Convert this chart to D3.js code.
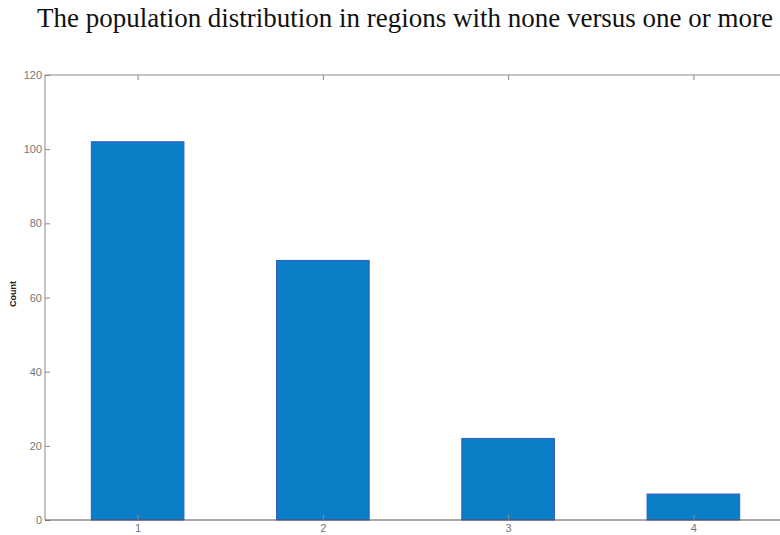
<!DOCTYPE html>
<html><head><meta charset="utf-8">
<script src="https://cdn.jsdelivr.net/npm/d3@7"></script>
<style>body{margin:0;background:#fff}svg{display:block}</style>
</head><body>
<svg id="c" width="780" height="535"></svg>
<script>
const categories = [1, 2, 3, 4];
const counts = [102, 70, 22, 7];
const yTicks = [0, 20, 40, 60, 80, 100, 120];
const titleText = "The population distribution in regions with none versus one or more";
const yLabel = "Count";

const svg = d3.select("#c");
const L = 45, R = 786, T = 75, B = 520;
const x = d3.scaleLinear().domain([0.5, 4.5]).range([L, R]);
const y = d3.scaleLinear().domain([0, 120]).range([B, T]);
const barW = x(1.5) - x(1);
const axisCol = "#8a8a8a";
const labCol = "#777";
const labFont = "Liberation Sans, Arial, sans-serif";

svg.append("text").attr("x", 37).attr("y", 27)
  .attr("font-family", "Liberation Serif, Times New Roman, serif")
  .attr("font-size", 27).attr("fill", "#111")
  .attr("textLength", 736).attr("lengthAdjust", "spacingAndGlyphs")
  .text(titleText);

// bars
svg.selectAll("rect.bar").data(categories).enter().append("rect")
  .attr("class", "bar")
  .attr("x", (d) => x(d) - barW / 2)
  .attr("y", (d, i) => y(counts[i]))
  .attr("width", barW)
  .attr("height", (d, i) => y(0) - y(counts[i]))
  .attr("fill", "#0a7fc7").attr("stroke", "#3a55c8").attr("stroke-width", 1);

// box lines
svg.append("line").attr("x1", L).attr("x2", R).attr("y1", T).attr("y2", T).attr("stroke", axisCol);
svg.append("line").attr("x1", L).attr("x2", L).attr("y1", T).attr("y2", B).attr("stroke", axisCol);
svg.append("line").attr("x1", R).attr("x2", R).attr("y1", T).attr("y2", B).attr("stroke", axisCol);

// left axis
const yAxis = d3.axisLeft(y).tickValues(yTicks).tickSizeInner(-5).tickSizeOuter(0).tickPadding(3);
const gy = svg.append("g").attr("transform", `translate(${L},0)`).call(yAxis);
gy.select(".domain").remove();
gy.selectAll("line").attr("stroke", axisCol);
gy.selectAll("text").attr("fill", labCol).attr("font-family", labFont).attr("font-size", 11);

// right axis ticks
const gr = svg.append("g").attr("transform", `translate(${R},0)`)
  .call(d3.axisRight(y).tickValues(yTicks).tickSizeInner(-5).tickSizeOuter(0).tickFormat(""));
gr.select(".domain").remove();
gr.selectAll("line").attr("stroke", "#c8c8c8");

// top axis ticks
const gt = svg.append("g").attr("transform", `translate(0,${T})`)
  .call(d3.axisTop(x).tickValues(categories).tickSizeInner(-5).tickSizeOuter(0).tickFormat(""));
gt.select(".domain").remove();
gt.selectAll("line").attr("stroke", axisCol);

// bottom axis
const gb = svg.append("g").attr("transform", `translate(0,${B})`)
  .call(d3.axisBottom(x).tickValues(categories).tickSizeInner(-5).tickSizeOuter(0).tickPadding(4).tickFormat(d3.format("d")));
gb.select(".domain").remove();
gb.selectAll("line").attr("stroke", axisCol);
gb.selectAll("text").attr("fill", labCol).attr("font-family", labFont).attr("font-size", 11);
svg.append("line").attr("x1", L).attr("x2", 780).attr("y1", B).attr("y2", B).attr("stroke", "#555").attr("stroke-width", 1.2);

// y label (partly clipped at left edge as in the reference)
svg.append("defs").append("clipPath").attr("id", "ylc")
  .append("rect").attr("x", 9).attr("y", 0).attr("width", 40).attr("height", 535);
svg.append("g").attr("clip-path", "url(#ylc)")
  .append("text")
  .attr("transform", `translate(16,294) rotate(-90)`)
  .attr("text-anchor", "middle").attr("font-family", labFont)
  .attr("font-size", 9).attr("font-weight", "bold").attr("fill", "#222").text(yLabel);
</script>
</body></html>
